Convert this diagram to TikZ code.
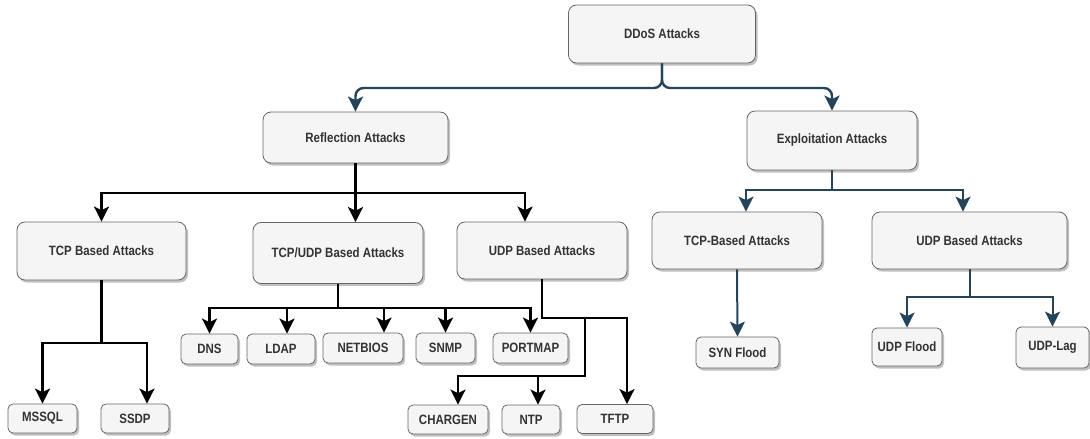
\documentclass[tikz,border=0pt]{standalone}
\usepackage{fontspec}
\setmainfont[FakeStretch=0.85]{Liberation Sans}
\usetikzlibrary{arrows.meta,positioning,shadows}
\definecolor{boxfill}{HTML}{F5F5F5}
\definecolor{boxline}{HTML}{666666}
\definecolor{navy}{HTML}{23445D}
\definecolor{txt}{HTML}{333333}

\begin{document}
\begin{tikzpicture}[x=1pt,y=-1pt,
  box/.style={draw=boxline,fill=boxfill,line width=0.8pt,inner sep=0pt,
    text=txt,font=\bfseries\fontsize{13.5}{15}\selectfont,
    drop shadow={shadow xshift=2pt,shadow yshift=-2.5pt,fill=black!45,opacity=.55}},
  big/.style 2 args={box,rounded corners=8pt,minimum width=#1pt,minimum height=#2pt},
  small/.style 2 args={box,rounded corners=5pt,minimum width=#1pt,minimum height=#2pt},
  blueline/.style={draw=navy,line width=2.4pt,-{Stealth[length=15pt,width=15pt,inset=3.5pt]}},
  blackline/.style={draw=black,line width=2.2pt,-{Stealth[length=15pt,width=15pt,inset=3.5pt]}}]
\useasboundingbox (0,0) rectangle (1090,439);

% top level
\node[big={187}{58}] (ddos) at (662,34) {DDoS Attacks};
\node[big={185}{51}] (refl) at (355.5,137.5) {Reflection Attacks};
\node[big={170}{59}] (expl) at (832,140.5) {Exploitation Attacks};

% reflection branch
\node[big={169}{58}] (tcp) at (101.5,251) {TCP Based Attacks};
\node[big={170}{61}] (tcpudp) at (338,253) {TCP/UDP Based Attacks};
\node[big={170}{57}] (udp) at (542,250.5) {UDP Based Attacks};

\node[small={69}{29}] (mssql) at (42.5,418.5) {MSSQL};
\node[small={68}{29}] (ssdp) at (135,418.5) {SSDP};

\node[small={57}{30}] (dns) at (209.5,349) {DNS};
\node[small={68}{30}] (ldap) at (281,349) {LDAP};
\node[small={80}{30}] (netbios) at (363,348) {NETBIOS};
\node[small={59}{30}] (snmp) at (445.5,348) {SNMP};
\node[small={75}{30}] (portmap) at (530.5,348) {PORTMAP};

\node[small={80}{29}] (chargen) at (448,419.5) {CHARGEN};
\node[small={58}{29}] (ntp) at (531,419.5) {NTP};
\node[small={76}{29}] (tftp) at (615,419) {TFTP};

% exploitation branch
\node[big={170}{57}] (tcpb) at (737,240.5) {TCP-Based Attacks};
\node[big={195}{57}] (udpb) at (969.5,240.5) {UDP Based Attacks};
\node[small={83}{31}] (syn) at (737.5,352.5) {SYN Flood};
\node[small={70}{38}] (uflood) at (907,347) {UDP Flood};
\node[small={73}{41}] (ulag) at (1052.5,347.5) {UDP-Lag};

% junctions
\coordinate (dj) at (662,88);
\coordinate (rj) at (355.5,193);
\coordinate (ej) at (832,190);
\coordinate (tj) at (101.5,343);
\coordinate (cj) at (338,308);
\coordinate (uj) at (542,318);
\coordinate (uk) at (585,318);
\coordinate (ul) at (585,376);
\coordinate (bj) at (969.5,297);

% blue connectors
\draw[blueline,rounded corners=8pt] (ddos.south) -- (dj) -| (refl.north);
\draw[blueline,rounded corners=8pt] (ddos.south) -- (dj) -| (expl.north);
\draw[blueline,line width=2pt] (expl.south) -- (ej) -| ([xshift=9pt]tcpb.north);
\draw[blueline,line width=2pt] (ej) -| ([xshift=-6.5pt]udpb.north);
\draw[blueline,line width=2pt] (tcpb.south) -- (syn.north);
\draw[blueline,line width=2pt] (udpb.south) -- (bj) -| (uflood.north);
\draw[blueline,line width=2pt] (bj) -| (ulag.north);

% black connectors
\draw[blackline] (refl.south) -- (tcpudp.north -| refl.south);
\draw[blackline] (rj) -| (tcp.north);
\draw[blackline] (rj) -| ([xshift=-17pt]udp.north);

\draw[blackline] (tcp.south) -- (tj) -| (mssql.north);
\draw[blackline] (tj) -| ([xshift=12pt]ssdp.north);

\draw[blackline] (tcpudp.south) -- (cj) -| (dns.north);
\draw[blackline] (cj) -| ([xshift=6pt]ldap.north);
\draw[blackline] (cj) -| ([xshift=21pt]netbios.north);
\draw[blackline] (cj) -| (snmp.north);
\draw[blackline] (cj) -| (portmap.north);

\draw[blackline] (udp.south) -- (uj) -| ([xshift=12pt]tftp.north);
\draw[blackline] (uk) -- (ul) -| ([xshift=10pt]chargen.north);
\draw[blackline] (ul) -| ([xshift=7pt]ntp.north);
\end{tikzpicture}
\end{document}
